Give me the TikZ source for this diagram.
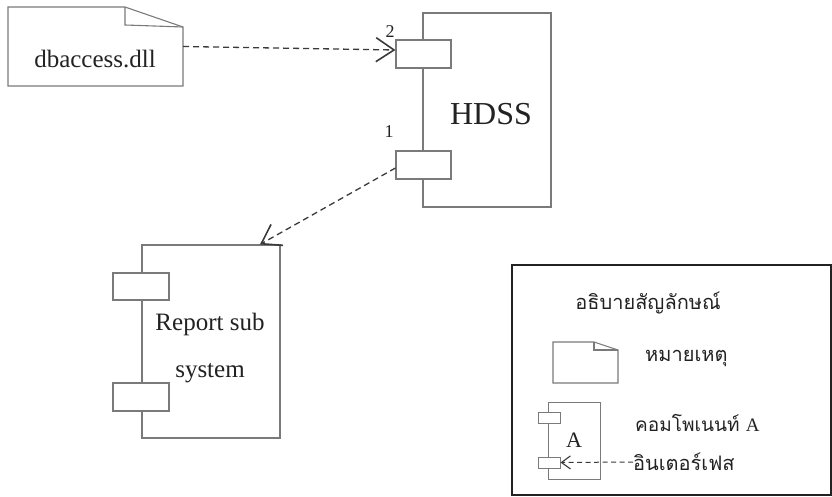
\documentclass[tikz,border=0pt]{standalone}
\usepackage{fontspec}
\setmainfont{Liberation Serif}
\newfontfamily\thaifont[Script=Thai]{Loma}
\usetikzlibrary{arrows.meta}

\definecolor{boxgray}{HTML}{7A7A7A}
\definecolor{arrowgray}{HTML}{3A3A3A}
\definecolor{inkgray}{HTML}{222222}

\begin{document}
\begin{tikzpicture}[x=1pt,y=-1pt,
  compbox/.style={draw=boxgray, line width=1.1pt, fill=white, inner sep=0pt, rectangle},
  portbox/.style={draw=boxgray, line width=1.1pt, fill=white, inner sep=0pt, rectangle},
  notebody/.style={inner sep=0pt, rectangle},
  noteline/.style={draw=boxgray, line width=1.1pt},
  dep/.style={draw=arrowgray, line width=1.3pt, dash pattern=on 6pt off 4pt,
    -{Straight Barb[length=18pt,width=24pt,line width=1.6pt]}},
  depsmall/.style={draw=arrowgray, line width=1pt, dash pattern=on 5pt off 3.5pt,
    -{Straight Barb[length=9pt,width=13pt,line width=1.1pt]}},
  lbl/.style={text=inkgray, inner sep=0pt},
  thai/.style={text=inkgray, inner sep=0pt, font=\thaifont\fontsize{20}{24}\selectfont}
]
\useasboundingbox (0,0) rectangle (832,497);

% ---- dbaccess.dll note ----
\node[notebody, minimum width=175pt, minimum height=79pt] (dbnote) at (95.5,46.5) {};
\draw[noteline] (8,7) -- (125,7) -- (183,27) -- (183,86) -- (8,86) -- cycle;
\draw[noteline] (125,7) -- (125,25) -- (183,27);
\node[lbl, anchor=base, font=\fontsize{25}{30}\selectfont] (dbtext) at (95,68) {dbaccess.dll};

% ---- HDSS component ----
\node[compbox, minimum width=128pt, minimum height=194pt] (hdss) at (487,110) {};
\node[portbox, minimum width=55pt, minimum height=28pt] (hport2) at (423.5,54) {};
\node[portbox, minimum width=55pt, minimum height=28pt] (hport1) at (423.5,165) {};
\node[lbl, anchor=base, font=\fontsize{32}{38}\selectfont] (hdsstext) at (491,125) {HDSS};
\node[lbl, anchor=base, font=\fontsize{18}{21}\selectfont] (num2) at (390,38) {2};
\node[lbl, anchor=base, font=\fontsize{18}{21}\selectfont] (num1) at (389,138) {1};

% ---- Report sub system component ----
\node[compbox, minimum width=138pt, minimum height=193pt] (rep) at (211,341.5) {};
\node[portbox, minimum width=56pt, minimum height=27pt] (rport1) at (141,286.5) {};
\node[portbox, minimum width=56pt, minimum height=28pt] (rport2) at (141,397) {};
\node[lbl, anchor=base, font=\fontsize{25}{30}\selectfont] (reptext1) at (210,330) {Report sub};
\node[lbl, anchor=base, font=\fontsize{25}{30}\selectfont] (reptext2) at (210,377) {system};

% ---- dependencies ----
\draw[dep] (dbnote.east) -- ([yshift=4pt]hport2.west);
\draw[dep] ([yshift=-3pt]hport1.west) -- ([xshift=49pt]rep.north);

% ---- legend ----
\node[draw=inkgray, line width=1.8pt, rectangle, inner sep=0pt,
      minimum width=319pt, minimum height=230pt] (legend) at (671.5,380) {};
\node[thai] (legtitle) at (648,303) {อธิบายสัญลักษณ์};

\node[notebody, minimum width=65pt, minimum height=41pt] (legnote) at (585.5,362.5) {};
\draw[noteline] (553,342) -- (594,342) -- (618,350) -- (618,383) -- (553,383) -- cycle;
\draw[noteline] (594,342) -- (594,350) -- (618,350);
\node[thai, anchor=west] (legnotetext) at (645,358) {หมายเหตุ};

\node[compbox, line width=1pt, minimum width=52pt, minimum height=77pt] (legcomp) at (574,440.5) {};
\node[portbox, line width=1pt, minimum width=22pt, minimum height=11pt] (legport1) at (549,417.5) {};
\node[portbox, line width=1pt, minimum width=22pt, minimum height=11pt] (legport2) at (549,462.5) {};
\node[lbl, anchor=base, font=\fontsize{22}{26}\selectfont] (legA) at (574,447) {A};
\node[thai, anchor=west, font=\thaifont\fontsize{19}{23}\selectfont] (legcomptext) at (635,423) {คอมโพเนนท์ \fontspec{Liberation Serif}A};
\node[thai, anchor=west] (legiftext) at (633,462) {อินเตอร์เฟส};
\draw[depsmall] (legiftext.west) -- (legport2.east);

\end{tikzpicture}
\end{document}
